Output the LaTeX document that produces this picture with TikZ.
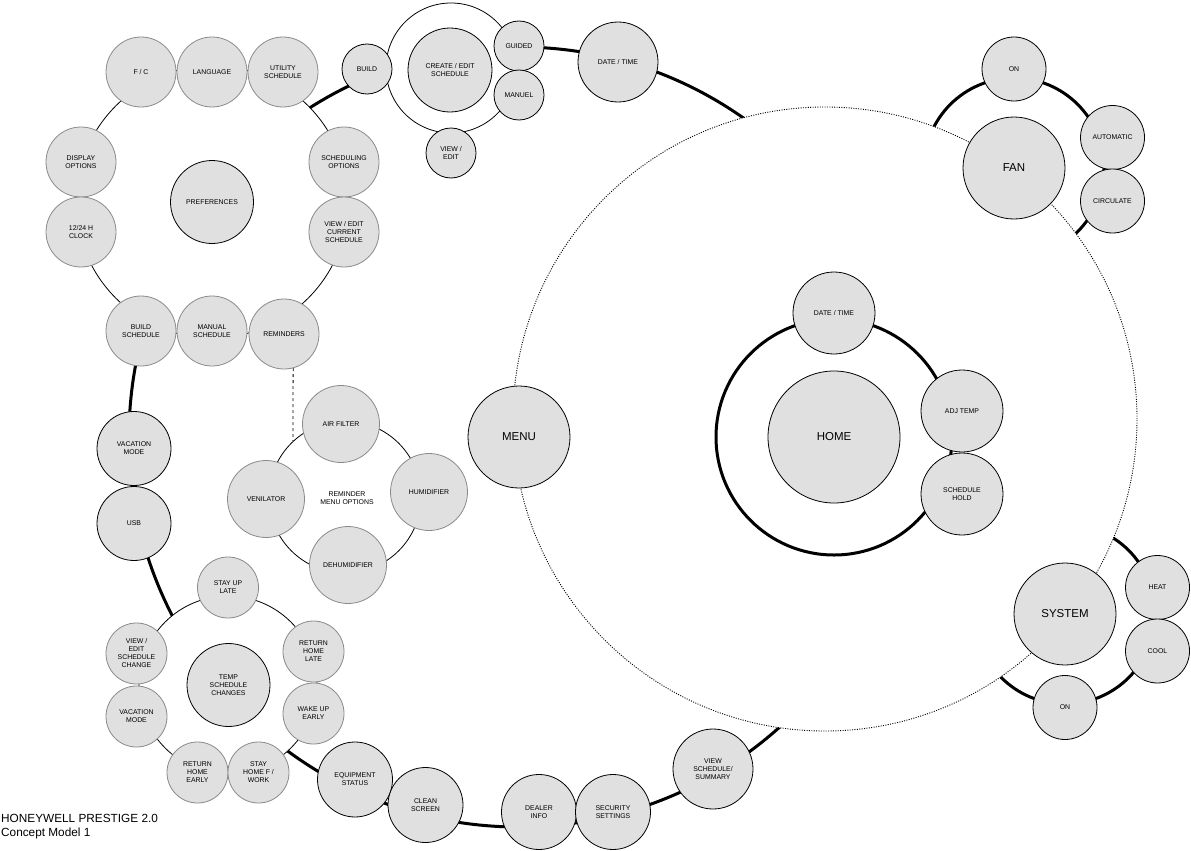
\documentclass[tikz,border=0pt]{standalone}
\usepackage{fontspec}
\setmainfont{Liberation Sans}
\usetikzlibrary{positioning}

\definecolor{bubble}{HTML}{E0E0E0}
\definecolor{rim}{HTML}{8A8A8A}

\tikzset{
  bub/.style={circle, draw, fill=bubble, line width=0.8pt, inner sep=0pt,
    align=center, font=\fontsize{6.9}{8}\selectfont},
  sub/.style={bub, draw=rim},
  hub/.style={bub, minimum size=102pt, font=\fontsize{11.5}{13}\selectfont},
  ring/.style={circle, draw, fill=white, line width=0.8pt, inner sep=0pt, minimum size=#1},
  track/.style={line width=3pt},
}

\begin{document}
\begin{tikzpicture}[x=1pt,y=-1pt,node distance=71pt,on grid]
   \useasboundingbox (0,0) rectangle (1191,851);
   \coordinate (menuc) at (519,437);
   \coordinate (fanc) at (1014,168);
   \coordinate (sysc) at (1065,614);
   % main tracks
   \draw[track] (menuc) circle[radius=390pt];
   \draw[track] (fanc) circle[radius=90pt];
   \draw[track] (sysc) circle[radius=90pt];
   \draw[dash pattern=on 1pt off 1.4pt, fill=white, line width=0.9pt] (825,419) circle[radius=312pt];
   \draw[track] (834,437) circle[radius=118pt];

   % rings
   \node[ring=272pt] (prefring) at (212,202) {};
   \node[ring=130pt] (buildring) at (451,68) {};
   \node[ring=152pt] (remring) at (345,497) {};
   \node[ring=178pt] (tempring) at (228,685) {};

   % preferences
   \node[bub, minimum size=83pt] (pref) at (212,202) {PREFERENCES};
   \node[sub, minimum size=70pt] (fc) at (141,72) {F / C};
   \node[sub, minimum size=70pt] (lang) [right=of fc] {LANGUAGE};
   \node[sub, minimum size=70pt] (util) [right=of lang] {UTILITY\\SCHEDULE};
   \node[sub, minimum size=70pt] (disp) at (81,162) {DISPLAY\\OPTIONS};
   \node[sub, minimum size=70pt] (clock) [below=70pt of disp] {12/24 H\\CLOCK};
   \node[sub, minimum size=70pt] (schopt) at (344,162) {SCHEDULING\\OPTIONS};
   \node[sub, minimum size=70pt] (viewcur) [below=70pt of schopt] {VIEW / EDIT\\CURRENT\\SCHEDULE};
   \node[sub, minimum size=70pt] (bsched) at (141,331) {BUILD\\SCHEDULE};
   \node[sub, minimum size=70pt] (msched) [right=of bsched] {MANUAL\\SCHEDULE};
   \node[sub, minimum size=70pt] (rem) at (284,334) {REMINDERS};

   % build / create
   \node[bub, minimum size=50pt] (build) at (367,69) {BUILD};
   \node[bub, minimum size=84pt] (create) at (450,70) {CREATE / EDIT\\SCHEDULE};
   \node[bub, minimum size=50pt] (guided) at (519,46) {GUIDED};
   \node[bub, minimum size=50pt] (manuel) [below=49pt of guided] {MANUEL};
   \node[bub, minimum size=50pt] (viewedit) at (451,153) {VIEW /\\EDIT};
   \node[bub, minimum size=80pt] (datetop) at (618,62) {DATE / TIME};

   % reminder options
   \node[font=\fontsize{6.9}{8}\selectfont, align=center] (remlbl) at (347,498) {REMINDER\\MENU OPTIONS};
   \node[sub, minimum size=77pt] (airf) at (341,424) {AIR FILTER};
   \node[sub, minimum size=77pt] (veni) at (266,499) {VENILATOR};
   \node[sub, minimum size=77pt] (humid) at (429,492) {HUMIDIFIER};
   \node[sub, minimum size=77pt] (dehum) at (348,565) {DEHUMIDIFIER};

   % temp schedule changes
   \node[bub, minimum size=83pt] (temp) at (228.5,685) {TEMP\\SCHEDULE\\CHANGES};
   \node[sub, minimum size=61pt] (stay) at (228,587.5) {STAY UP\\LATE};
   \node[sub, minimum size=61pt] (rhl) at (313.5,651.5) {RETURN\\HOME\\LATE};
   \node[sub, minimum size=61pt] (wue) [below=62pt of rhl] {WAKE UP\\EARLY};
   \node[sub, minimum size=61pt] (rhe) at (197.5,772.5) {RETURN\\HOME\\EARLY};
   \node[sub, minimum size=61pt] (shfw) [right=61pt of rhe] {STAY\\HOME F /\\WORK};
   \node[sub, minimum size=61pt] (vesc) at (136.5,653.5) {VIEW /\\EDIT\\SCHEDULE\\CHANGE};
   \node[sub, minimum size=61pt] (vac2) [below=63pt of vesc] {VACATION\\MODE};

   % menu track
   \node[hub] (menu) at (menuc) {MENU};
   \node[bub, minimum size=74pt] (vac) at (134,448.5) {VACATION\\MODE};
   \node[bub, minimum size=74pt] (usb) [below=75pt of vac] {USB};
   \node[bub, minimum size=75pt] (equip) at (355,779.5) {EQUIPMENT\\STATUS};
   \node[bub, minimum size=75pt] (clean) at (425.5,805) {CLEAN\\SCREEN};
   \node[bub, minimum size=75pt] (dealer) at (539,812) {DEALER\\INFO};
   \node[bub, minimum size=75pt] (secur) [right=74pt of dealer] {SECURITY\\SETTINGS};
   \node[bub, minimum size=80pt] (viewsum) at (713,769) {VIEW\\SCHEDULE/\\SUMMARY};

   % home
   \node[hub, minimum size=132pt] (home) at (834,437) {HOME};
   \node[bub, minimum size=82pt] (hdate) at (834,313) {DATE / TIME};
   \node[bub, minimum size=82pt] (adj) at (962,411) {ADJ TEMP};
   \node[bub, minimum size=82pt] (shold) [below=83pt of adj] {SCHEDULE\\HOLD};

   % fan
   \node[hub] (fan) at (fanc) {FAN};
   \node[bub, minimum size=64pt] (fon) at (1014,69) {ON};
   \node[bub, minimum size=64pt] (auto) at (1112.5,137.5) {AUTOMATIC};
   \node[bub, minimum size=64pt] (circ) [below=63.5pt of auto] {CIRCULATE};

   % system
   \node[hub] (sys) at (sysc) {SYSTEM};
   \node[bub, minimum size=64pt] (heat) at (1157.5,587.5) {HEAT};
   \node[bub, minimum size=64pt] (cool) [below=63.5pt of heat] {COOL};
   \node[bub, minimum size=64pt] (son) at (1065,707.5) {ON};

   \draw[dashed, line width=0.8pt] (rem.-75) -- (remring.133);

   \node[anchor=north west, align=left, inner sep=0pt,
     font=\fontsize{11.8}{13.5}\selectfont] (title) at (1,814.5)
     {HONEYWELL PRESTIGE 2.0\\Concept Model 1};
\end{tikzpicture}
\end{document}
